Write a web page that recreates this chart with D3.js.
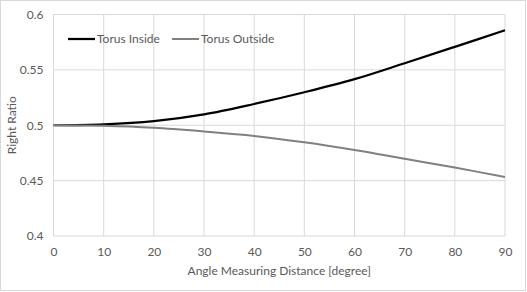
<!DOCTYPE html>
<html>
<head>
<meta charset="utf-8">
<script src="https://cdn.jsdelivr.net/npm/d3@7"></script>
<style>
  body { margin: 0; background: #fff; }
  text { font-family: Lato, "Open Sans", sans-serif; fill: #595959; }
</style>
</head>
<body>
<div id="chart"></div>
<script>
// data
const angles = [0, 10, 20, 30, 40, 50, 60, 70, 80, 90];
const torusInside = [0.5, 0.5008, 0.5037, 0.5098, 0.5192, 0.5298, 0.5416, 0.556, 0.5708, 0.5858];
const torusOutside = [0.5, 0.4995, 0.4977, 0.4944, 0.4904, 0.4846, 0.4776, 0.4697, 0.4618, 0.4532];
const xTicks = [0, 10, 20, 30, 40, 50, 60, 70, 80, 90];
const yTicks = [0.4, 0.45, 0.5, 0.55, 0.6];

const series = [
  { name: "Torus Inside", values: torusInside, color: "#000000", width: 2.25 },
  { name: "Torus Outside", values: torusOutside, color: "#808080", width: 2 }
];

const width = 527, height = 292;
const margin = { top: 14.5, right: 22, bottom: 56, left: 53.5 };

const svg = d3.select("#chart").append("svg")
  .attr("width", width)
  .attr("height", height);

// outer chart border
svg.append("rect")
  .attr("x", 0.5).attr("y", 0.5)
  .attr("width", width - 2).attr("height", height - 2)
  .attr("fill", "#fff")
  .attr("stroke", "#d9d9d9");

const x = d3.scaleLinear().domain([0, 90]).range([margin.left, width - margin.right]);
const y = d3.scaleLinear().domain([0.4, 0.6]).range([height - margin.bottom, margin.top]);

// gridlines
svg.append("g")
  .selectAll("line.vgrid")
  .data(xTicks)
  .enter().append("line")
  .attr("x1", d => x(d)).attr("x2", d => x(d))
  .attr("y1", y(0.4)).attr("y2", y(0.6))
  .attr("stroke", "#d9d9d9").attr("stroke-width", 1);

svg.append("g")
  .selectAll("line.hgrid")
  .data(yTicks)
  .enter().append("line")
  .attr("x1", x(0)).attr("x2", x(90))
  .attr("y1", d => y(d)).attr("y2", d => y(d))
  .attr("stroke", "#d9d9d9").attr("stroke-width", 1);

// axes (labels only, Excel style)
const xAxis = svg.append("g")
  .attr("transform", `translate(0,${y(0.4)})`)
  .call(d3.axisBottom(x).tickValues(xTicks).tickSize(0).tickPadding(11));
xAxis.select(".domain").remove();
xAxis.selectAll("text").style("font-size", "12px").attr("fill", "#595959");

const yAxis = svg.append("g")
  .attr("transform", `translate(${x(0)},0)`)
  .call(d3.axisLeft(y).tickValues(yTicks).tickSize(0).tickPadding(10).tickFormat(d3.format("")));
yAxis.select(".domain").remove();
yAxis.selectAll("text").style("font-size", "12px").attr("fill", "#595959");

// axis titles
svg.append("text")
  .attr("x", (x(0) + x(90)) / 2)
  .attr("y", 275)
  .attr("text-anchor", "middle")
  .style("font-size", "12px")
  .text("Angle Measuring Distance [degree]");

svg.append("text")
  .attr("transform", `translate(16,${(y(0.4) + y(0.6)) / 2}) rotate(-90)`)
  .attr("text-anchor", "middle")
  .style("font-size", "12px")
  .text("Right Ratio");

// lines
const line = d3.line()
  .x((d, i) => x(angles[i]))
  .y(d => y(d))
  .curve(d3.curveCatmullRom.alpha(0.5));

svg.append("g")
  .selectAll("path")
  .data(series)
  .enter().append("path")
  .attr("d", d => line(d.values))
  .attr("fill", "none")
  .attr("stroke", d => d.color)
  .attr("stroke-width", d => d.width);

// legend
const legendX = [68, 172];
const legend = svg.append("g")
  .selectAll("g")
  .data(series)
  .enter().append("g")
  .attr("transform", (d, i) => `translate(${legendX[i]},39)`);

legend.append("line")
  .attr("x1", 0).attr("x2", 27)
  .attr("stroke", d => d.color)
  .attr("stroke-width", d => d.width);

legend.append("text")
  .attr("x", 29)
  .attr("dy", "0.35em")
  .style("font-size", "12px")
  .text(d => d.name);
</script>
</body>
</html>
